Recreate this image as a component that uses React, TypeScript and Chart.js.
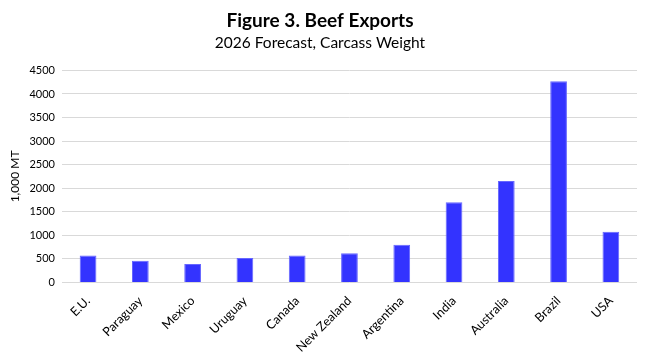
import React, { useEffect, useRef } from "react";
import { Chart, registerables } from "chart.js";

Chart.register(...registerables);

const categories = ["E.U.", "Paraguay", "Mexico", "Uruguay", "Canada", "New Zealand", "Argentina", "India", "Australia", "Brazil", "USA"];
const exportsValues = [570, 460, 390, 520, 570, 620, 800, 1700, 2155, 4270, 1075];
const titleText = "Figure 3. Beef Exports";
const subtitleText = "2026 Forecast, Carcass Weight";
const yAxisTitle = "1,000 MT";

const FONT = "Lato, 'Open Sans', sans-serif";

export default function App() {
  const ref = useRef<HTMLCanvasElement | null>(null);
  useEffect(() => {
    document.body.style.margin = "0";
    const ctx = ref.current!;
    const chart = new Chart(ctx, {
      type: "bar",
      data: {
        labels: categories,
        datasets: [
          {
            label: "Exports",
            data: exportsValues,
            backgroundColor: "#3333FF",
            borderColor: "#6666FF",
            borderWidth: 1,
            barPercentage: 0.4,
            categoryPercentage: 0.8,
          },
        ],
      },
      options: {
        responsive: false,
        animation: false,
        devicePixelRatio: 1,
        layout: { padding: { left: 3, right: 8, top: 4, bottom: 0 } },
        plugins: {
          legend: { display: false },
          tooltip: { enabled: false },
          title: {
            display: true,
            text: titleText,
            color: "#000",
            font: { family: FONT, size: 19, weight: "bold" },
            padding: { top: 5, bottom: 2 },
          },
          subtitle: {
            display: true,
            text: subtitleText,
            color: "#000",
            font: { family: FONT, size: 15.5 },
            padding: { bottom: 18 },
          },
        },
        scales: {
          x: {
            grid: { display: false },
            border: { display: false },
            ticks: {
              color: "#000",
              font: { family: FONT, size: 12.5 },
              maxRotation: 45,
              minRotation: 45,
            },
          },
          y: {
            min: 0,
            max: 4500,
            grid: { color: "#d9d9d9", lineWidth: 1, drawTicks: false },
            border: { display: false },
            ticks: {
              stepSize: 500,
              color: "#000",
              padding: 7,
              font: { family: FONT, size: 11 },
              callback: (v: any) => String(v),
            },
            title: {
              display: true,
              text: yAxisTitle,
              color: "#000",
              font: { family: FONT, size: 12 },
              padding: { top: 5, bottom: 0 },
            },
          },
        },
      },
    });
    return () => chart.destroy();
  }, []);
  return (
    <div style={{ width: 645, height: 358, background: "#fff" }}>
      <canvas ref={ref} width={645} height={358} style={{ display: "block" }} />
    </div>
  );
}
